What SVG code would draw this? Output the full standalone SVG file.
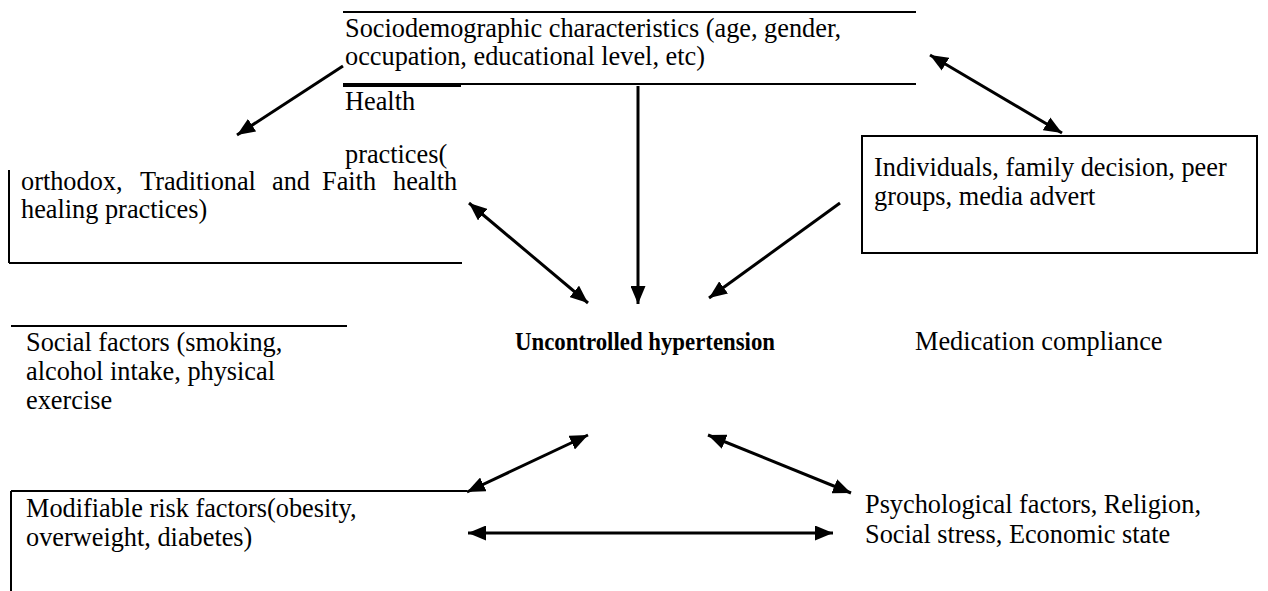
<svg xmlns="http://www.w3.org/2000/svg" width="1268" height="591" viewBox="0 0 1268 591">
<style>
text{font-family:"Liberation Serif","Times New Roman",serif;font-size:26.3px;fill:#000}
.b{font-weight:bold;font-size:25.5px}
.edge{stroke:#000;stroke-width:2;fill:none}
.con line{stroke:#000;stroke-width:3}
</style>
<defs>
<marker id="ah" viewBox="0 0 18 15" refX="18" refY="7.5" markerWidth="18" markerHeight="15" markerUnits="userSpaceOnUse" orient="auto-start-reverse">
<path d="M0,0 L18,7.5 L0,15 Z" fill="#000"/>
</marker>
</defs>
<rect width="1268" height="591" fill="#fff"/>
<g id="socio">
<line class="edge" x1="343" y1="12" x2="916" y2="12"/>
<line class="edge" x1="343" y1="84" x2="916" y2="84"/>
<text x="345" y="37">Sociodemographic characteristics (age, gender,</text>
<text x="345" y="65">occupation, educational level, etc)</text>
</g>
<g id="health">
<line class="edge" x1="343" y1="86" x2="461" y2="86"/>
<line class="edge" x1="9" y1="170" x2="9" y2="263"/>
<line class="edge" x1="9" y1="263" x2="462" y2="263"/>
<text x="345" y="110">Health</text>
<text x="345" y="163">practices(</text>
<text y="190"><tspan x="21">orthodox,</tspan><tspan x="140">Traditional</tspan><tspan x="272">and</tspan><tspan x="322">Faith</tspan><tspan x="393">health</tspan></text>
<text x="21" y="218">healing practices)</text>
</g>
<g id="individuals">
<rect class="edge" x="862" y="136" width="395" height="117"/>
<text x="874" y="176">Individuals, family decision, peer</text>
<text x="874" y="205">groups, media advert</text>
</g>
<g id="uncontrolled">
<text class="b" x="515" y="350" textLength="260" lengthAdjust="spacingAndGlyphs">Uncontrolled hypertension</text>
</g>
<g id="medication">
<text x="915" y="350">Medication compliance</text>
</g>
<g id="social">
<line class="edge" x1="11" y1="326" x2="347" y2="326"/>
<text x="26" y="351">Social factors (smoking,</text>
<text x="26" y="380">alcohol intake, physical</text>
<text x="26" y="409">exercise</text>
</g>
<g id="modifiable">
<line class="edge" x1="11" y1="491" x2="467" y2="491"/>
<line class="edge" x1="11" y1="491" x2="11" y2="591"/>
<text x="26" y="517">Modifiable risk factors(obesity,</text>
<text x="26" y="546">overweight, diabetes)</text>
</g>
<g id="psychological">
<text x="865" y="513">Psychological factors, Religion,</text>
<text x="865" y="543">Social stress, Economic state</text>
</g>
<g id="connectors" class="con">
<line x1="343" y1="66" x2="237" y2="135" marker-end="url(#ah)"/>
<line x1="638" y1="86" x2="638" y2="304" marker-end="url(#ah)"/>
<line x1="469" y1="203" x2="588" y2="303" marker-start="url(#ah)" marker-end="url(#ah)"/>
<line x1="840" y1="203" x2="709" y2="298" marker-end="url(#ah)"/>
<line x1="930" y1="55" x2="1062" y2="133" marker-start="url(#ah)" marker-end="url(#ah)"/>
<line x1="467" y1="492" x2="588" y2="435" marker-start="url(#ah)" marker-end="url(#ah)"/>
<line x1="708" y1="435" x2="851" y2="493" marker-start="url(#ah)" marker-end="url(#ah)"/>
<line x1="468" y1="533" x2="833" y2="533" marker-start="url(#ah)" marker-end="url(#ah)"/>
</g>
</svg>
